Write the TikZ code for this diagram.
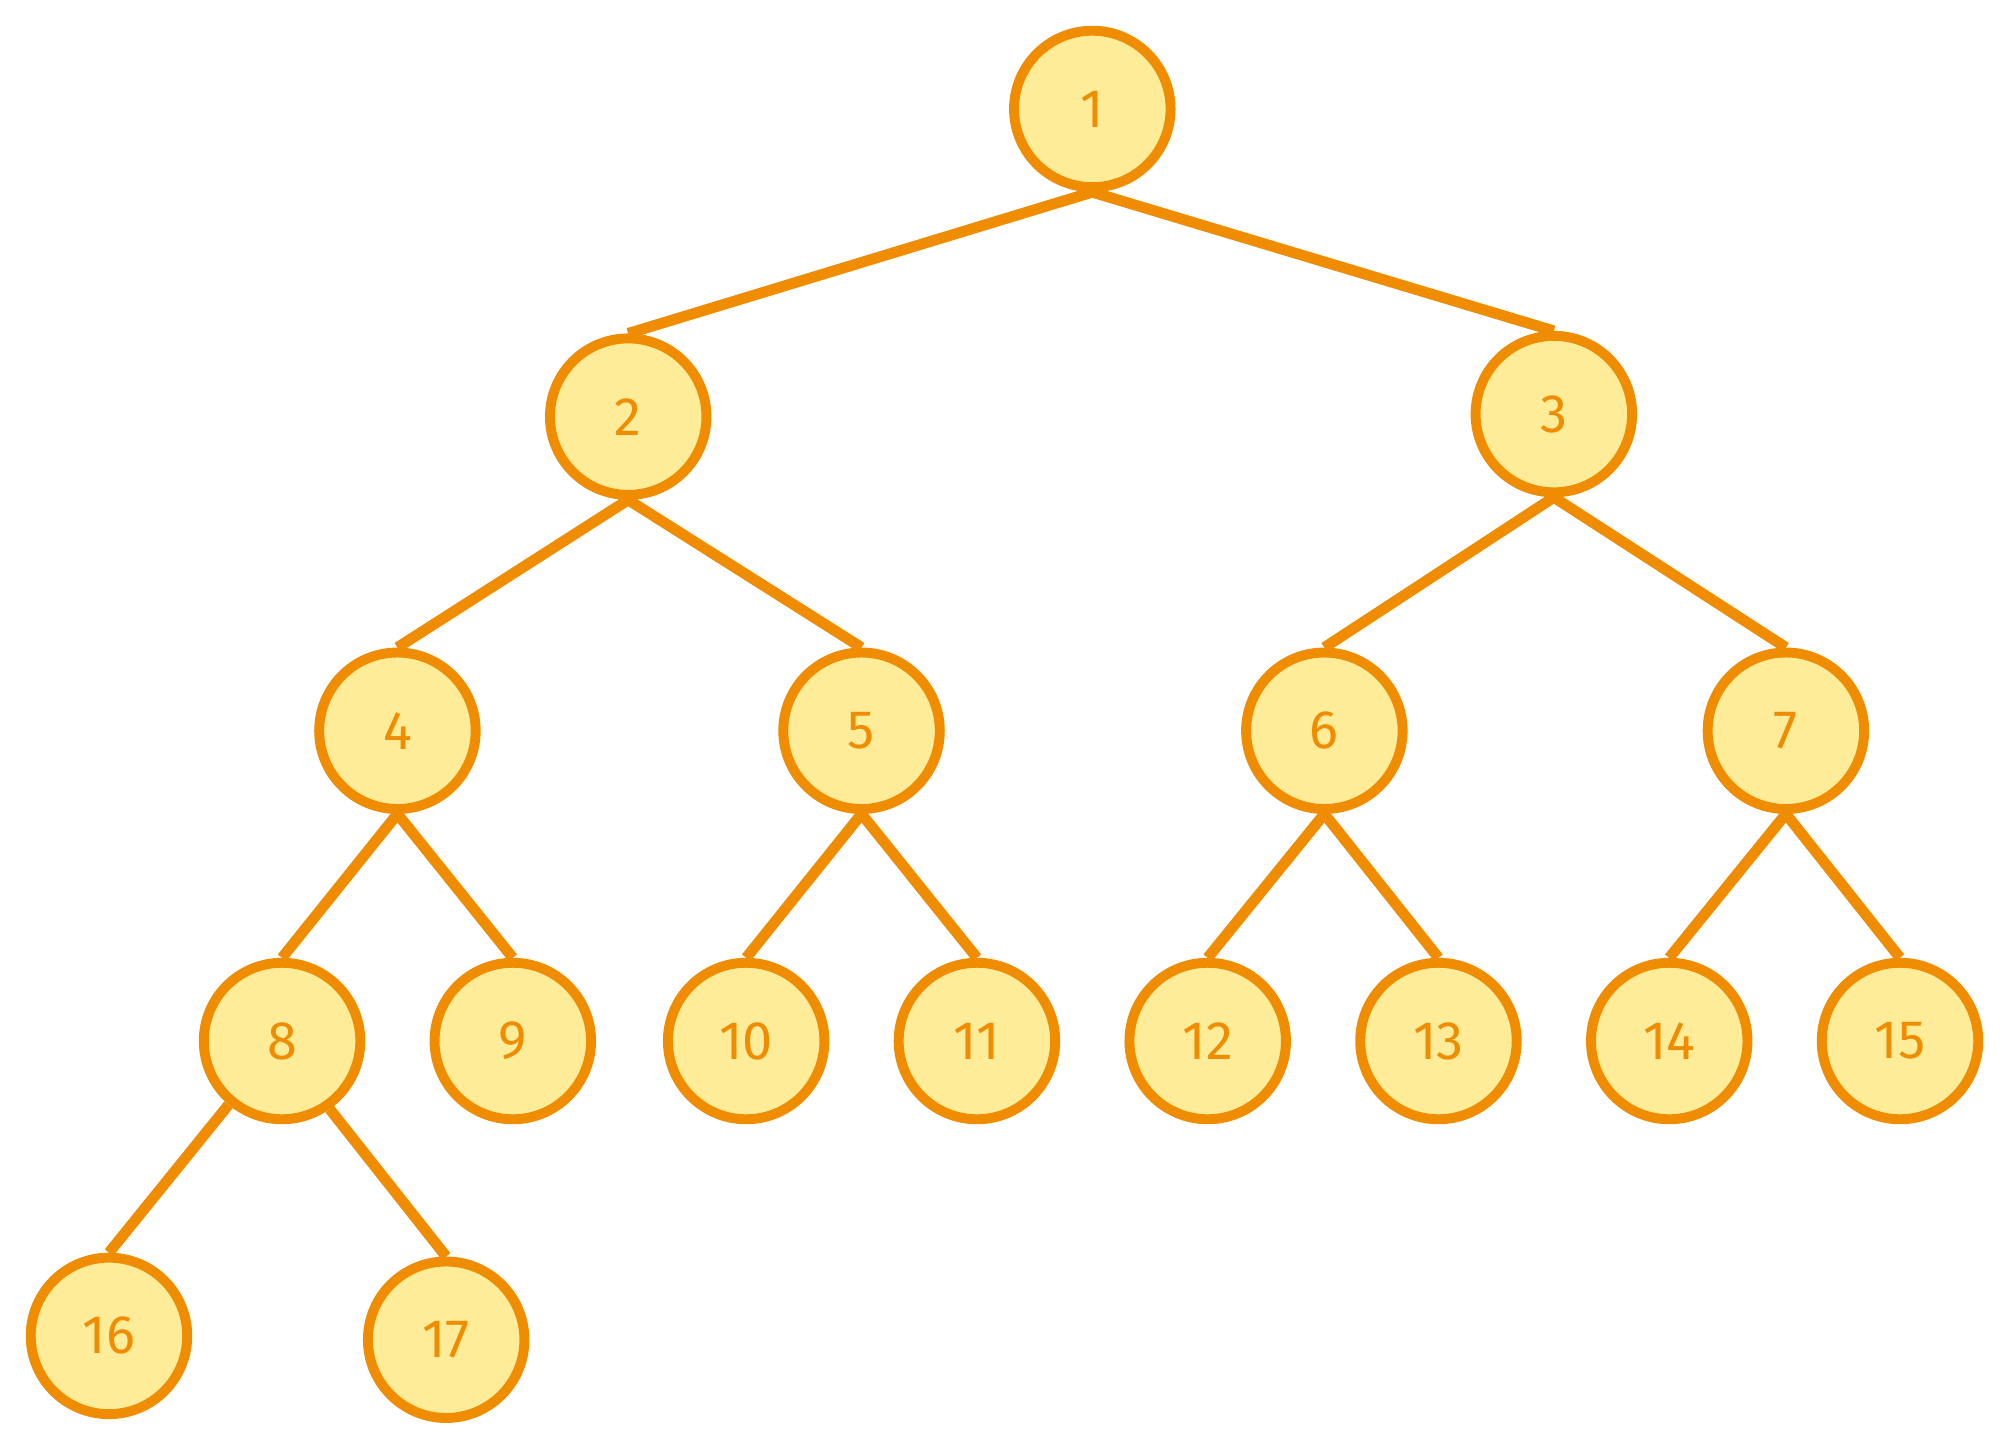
\documentclass[tikz,border=0pt]{standalone}
\usepackage{fontspec}
\setsansfont{Fira Sans}
\definecolor{orgline}{HTML}{F08C00}
\definecolor{orgfill}{HTML}{FFEC99}
\begin{document}
\begin{tikzpicture}[x=0.01cm,y=-0.01cm,
  vtx/.style={circle,draw=orgline,fill=orgfill,line width=2.2pt,minimum size=1.22cm,inner sep=0pt,font=\sffamily\large,text=orgline},
  edge/.style={draw=orgline,line width=2.4pt}]
\useasboundingbox (0,0) rectangle (1560,1125);
\foreach \n/\x/\y in {1/852/85,2/490/325,3/1212/323,4/310/570,5/672/570,6/1033/570,7/1393/570,8/220/812,9/400/812,10/582/812,11/762/812,12/942/812,13/1122/812,14/1302/812,15/1482/812,16/85/1042,17/348/1045}
  \node[vtx] (n\n) at (\x,\y) {\n};
\foreach \p/\c in {1/2,1/3,2/4,2/5,3/6,3/7,4/8,4/9,5/10,5/11,6/12,6/13,7/14,7/15}
  \draw[edge] (n\p.south) -- (n\c.north);
\draw[edge] (n8.-130) -- (n16.north);
\draw[edge] (n8.-55) -- (n17.north);
\end{tikzpicture}
\end{document}
